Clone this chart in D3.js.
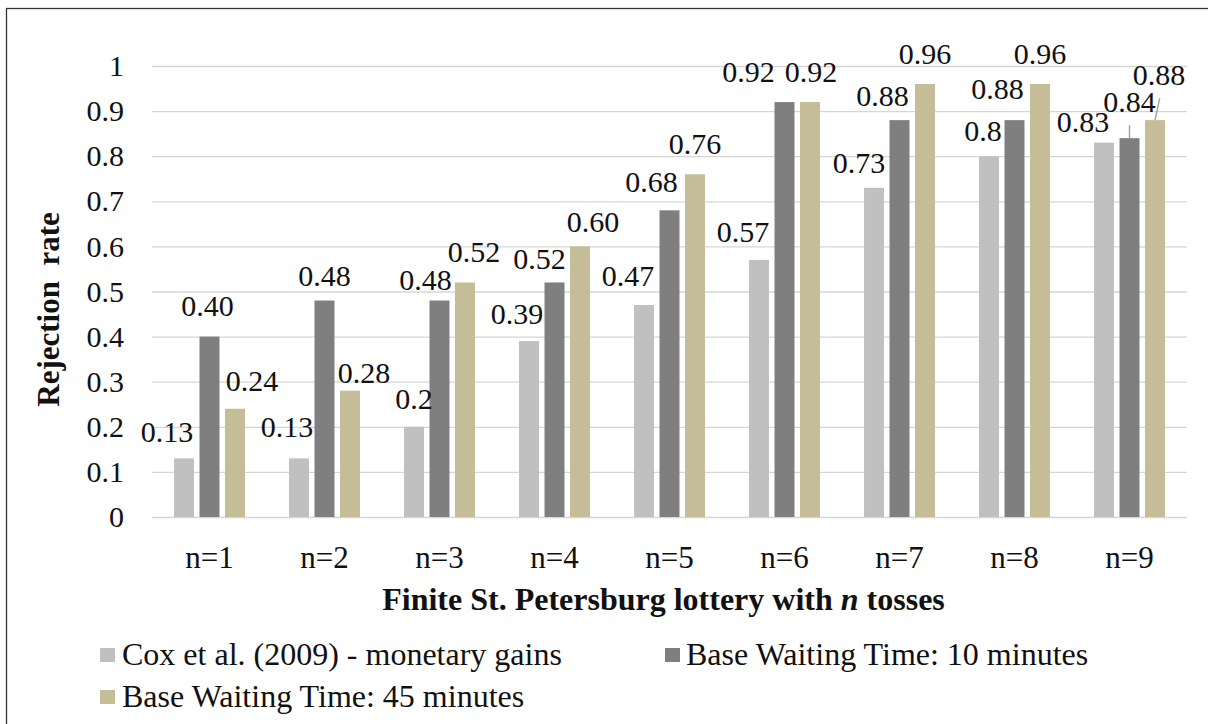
<!DOCTYPE html>
<html>
<head>
<meta charset="utf-8">
<script src="https://cdn.jsdelivr.net/npm/d3@7"></script>
<style>
  html, body { margin: 0; padding: 0; background: #fff; }
  svg { display: block; font-family: "Liberation Serif", "Times New Roman", serif; }
</style>
</head>
<body>
<svg id="chart" width="1208" height="724"></svg>
<script>
// ---- data ----
const categories = ["n=1", "n=2", "n=3", "n=4", "n=5", "n=6", "n=7", "n=8", "n=9"];
const seriesNames = ["Cox et al. (2009) - monetary gains", "Base Waiting Time: 10 minutes", "Base Waiting Time: 45 minutes"];
const coxValues    = [0.13, 0.13, 0.2, 0.39, 0.47, 0.57, 0.73, 0.8, 0.83];
const wait10Values = [0.40, 0.48, 0.48, 0.52, 0.68, 0.92, 0.88, 0.88, 0.84];
const wait45Values = [0.24, 0.28, 0.52, 0.60, 0.76, 0.92, 0.96, 0.96, 0.88];
const yTicks = [0, 0.1, 0.2, 0.3, 0.4, 0.5, 0.6, 0.7, 0.8, 0.9, 1];
const yTitle = "Rejection  rate";

// label nudges (as placed in the original figure)
const coxLabelDx    = [-17, -12, 0, -12, -16, -16, -15, -6, -21];
const coxLabelGap   = [16, 21, 18, 17, 19, 18, 15, 15, 11];
const wait10LabelDx = [-2, 0, -14, -15, -18, -36, -17, -17, 0];
const wait10LabelGap= [21, 15, 11, 13, 18, 20, 14, 21, 26];
const wait45LabelDx = [17, 14, 9, 13, 0, 1, 0, 0, 4];
const wait45LabelGap= [18, 8, 20, 14, 20, 20, 20, 20, 35];

const colors = ["#c0c0c0", "#7f7f7f", "#c4bd97"];
const fmtGeneral = d3.format("");
const fmtFixed = d3.format(".2f");

const series = [
  { name: seriesNames[0], values: coxValues,    dx: coxLabelDx,    gap: coxLabelGap,    fmt: fmtGeneral, color: colors[0] },
  { name: seriesNames[1], values: wait10Values, dx: wait10LabelDx, gap: wait10LabelGap, fmt: fmtFixed,   color: colors[1] },
  { name: seriesNames[2], values: wait45Values, dx: wait45LabelDx, gap: wait45LabelGap, fmt: fmtFixed,   color: colors[2] }
];

const svg = d3.select("#chart");
const plotLeft = 152, plotRight = 1187, plotTop = 66, plotBottom = 517;

// outer border
svg.append("rect").attr("x", 6.5).attr("y", 8.5).attr("width", 1300).attr("height", 800)
  .attr("fill", "none").attr("stroke", "#333").attr("stroke-width", 1.3);

const x0 = d3.scaleBand().domain(categories).range([plotLeft, plotRight]).paddingInner(0.383).paddingOuter(0.1915);
const x1 = d3.scaleBand().domain(d3.range(series.length)).range([0, x0.bandwidth()]).paddingInner(0.216);
const y = d3.scaleLinear().domain([0, 1]).range([plotBottom, plotTop]);

// gridlines
const grid = svg.append("g").attr("transform", `translate(${plotLeft},0)`)
  .call(d3.axisLeft(y).tickValues(yTicks).tickSize(-(plotRight - plotLeft)).tickFormat(""));
grid.select(".domain").remove();
grid.selectAll("line").attr("stroke", "#d6d6d6").attr("stroke-width", 1.3);

// y axis labels
const yAxis = svg.append("g").attr("transform", `translate(${plotLeft},0)`)
  .call(d3.axisLeft(y).tickValues(yTicks).tickSize(0).tickPadding(28).tickFormat(fmtGeneral));
yAxis.select(".domain").remove();
yAxis.selectAll("text").attr("font-size", 30).attr("fill", "#111")
  .attr("font-family", "'Liberation Serif', 'Times New Roman', serif");

// x axis labels
const xAxis = svg.append("g").attr("transform", `translate(0,${plotBottom})`)
  .call(d3.axisBottom(x0).tickSize(0).tickPadding(29));
xAxis.select(".domain").remove();
xAxis.selectAll("text").attr("font-size", 31).attr("fill", "#111")
  .attr("font-family", "'Liberation Serif', 'Times New Roman', serif");

// bars
const groups = svg.append("g").selectAll("g").data(series).join("g");
groups.each(function(s, si) {
  const g = d3.select(this);
  g.selectAll("rect").data(s.values).join("rect")
    .attr("x", (d, i) => x0(categories[i]) + x1(si))
    .attr("y", d => y(d))
    .attr("width", x1.bandwidth())
    .attr("height", d => y(0) - y(d))
    .attr("fill", s.color);
});

// leader lines + labels
const labelLayer = svg.append("g");
series.forEach((s, si) => {
  s.values.forEach((v, i) => {
    const bx = x0(categories[i]) + x1(si) + x1.bandwidth() / 2;
    const by = y(v);
    const lx = bx + s.dx[i];
    const ly = by - s.gap[i];
    if (s.gap[i] > 24) {
      labelLayer.append("line")
        .attr("x1", bx).attr("y1", by)
        .attr("x2", lx + (lx - bx) * 0.2).attr("y2", ly + 13)
        .attr("stroke", "#a0a0a0").attr("stroke-width", 1.4);
    }
    labelLayer.append("text")
      .attr("x", lx).attr("y", ly)
      .attr("text-anchor", "middle")
      .attr("font-size", 30).attr("fill", "#111")
      .text(s.fmt(v));
  });
});

// y title
svg.append("text")
  .attr("transform", `translate(59,${(plotTop + plotBottom) / 2 + 18}) rotate(-90)`)
  .attr("text-anchor", "middle")
  .attr("font-size", 31).attr("font-weight", "bold").attr("fill", "#111")
  .style("white-space", "pre")
  .text(yTitle);

// x title
const xt = svg.append("text")
  .attr("x", (plotLeft + plotRight) / 2 - 6).attr("y", 610)
  .attr("text-anchor", "middle")
  .attr("font-size", 32).attr("font-weight", "bold").attr("fill", "#111");
xt.append("tspan").text("Finite St. Petersburg lottery with ");
xt.append("tspan").attr("font-style", "italic").text("n");
xt.append("tspan").text(" tosses");

// legend
const legendPos = [
  { sx: 100, tx: 122, cy: 655 },
  { sx: 665, tx: 686, cy: 655 },
  { sx: 100, tx: 122, cy: 697 }
];
const legend = svg.append("g");
series.forEach((s, i) => {
  const p = legendPos[i];
  legend.append("rect").attr("x", p.sx).attr("y", p.cy - 7).attr("width", 15).attr("height", 14).attr("fill", s.color);
  legend.append("text").attr("x", p.tx).attr("y", p.cy + 10)
    .attr("font-size", 32).attr("fill", "#111").text(s.name);
});
</script>
</body>
</html>
